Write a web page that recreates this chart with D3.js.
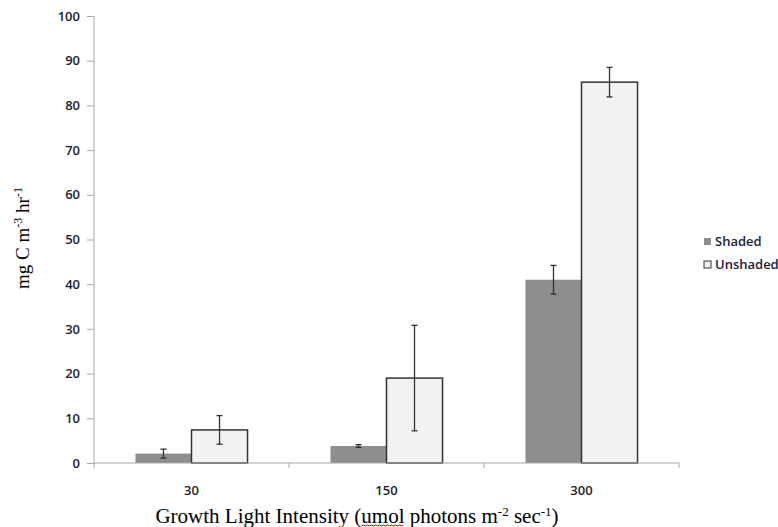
<!DOCTYPE html>
<html>
<head>
<meta charset="utf-8">
<script src="https://cdn.jsdelivr.net/npm/d3@7"></script>
<style>
  body { margin: 0; background: #fff; }
  .tick text { font-family: "Open Sans", sans-serif; font-size: 13px; font-weight: 600; fill: #1c1c2c; }
  .axisTitle { font-family: "Liberation Serif", "DejaVu Serif", serif; fill: #000; }
</style>
</head>
<body>
<div id="chart"></div>
<script>
// chart data
var categories = ["30", "150", "300"];
var seriesNames = ["Shaded", "Unshaded"];
var shadedVals = [2.1, 3.8, 41.0];
var shadedErr = [1.0, 0.3, 3.2];
var unshadedVals = [7.4, 19.0, 85.2];
var unshadedErr = [3.2, 11.8, 3.3];
var yTicks = [0, 10, 20, 30, 40, 50, 60, 70, 80, 90, 100];

var svgWidth = 778, svgHeight = 527;
var margin = { top: 16, right: 99, bottom: 64, left: 94 };
var chartWidth = svgWidth - margin.left - margin.right;
var chartHeight = svgHeight - margin.top - margin.bottom;

var svg = d3.select("#chart").append("svg")
    .attr("width", svgWidth)
    .attr("height", svgHeight);

var chartGroup = svg.append("g")
    .attr("transform", `translate(${margin.left}, ${margin.top})`);

// build rows
var rows = categories.map((c, i) => ({
    cat: c,
    vals: [
      { s: "Shaded", v: shadedVals[i], e: shadedErr[i] },
      { s: "Unshaded", v: unshadedVals[i], e: unshadedErr[i] }
    ]
}));

var x0 = d3.scaleBand().domain(categories).range([0, chartWidth]).padding(0);
var x1 = d3.scaleBand().domain(seriesNames).range([0, x0.bandwidth()]).paddingInner(0).paddingOuter(0.74);
var y = d3.scaleLinear().domain([0, 100]).range([chartHeight, 0]);

var fill = { "Shaded": "#8e8e8e", "Unshaded": "#f2f2f2" };
var stroke = { "Shaded": "none", "Unshaded": "#333" };

// y axis
var yAxis = chartGroup.append("g")
    .call(d3.axisLeft(y).tickValues(yTicks).tickSize(7).tickPadding(7));
yAxis.select(".domain").attr("stroke", "#a6a6a6").attr("d", `M0,0V${chartHeight}`);
yAxis.selectAll(".tick line").attr("stroke", "#a6a6a6");

// bars
var groups = chartGroup.selectAll(".grp")
    .data(rows)
    .enter().append("g")
    .attr("transform", d => `translate(${x0(d.cat)},0)`);

groups.selectAll("rect")
    .data(d => d.vals)
    .enter().append("rect")
    .attr("x", d => x1(d.s))
    .attr("y", d => y(d.v))
    .attr("width", x1.bandwidth())
    .attr("height", d => chartHeight - y(d.v))
    .attr("fill", d => fill[d.s])
    .attr("stroke", d => stroke[d.s])
    .attr("stroke-width", 1.5);

// x axis (ticks at category boundaries)
var xg = chartGroup.append("g").attr("transform", `translate(0, ${chartHeight})`);
xg.append("line").attr("x1", 0).attr("x2", chartWidth).attr("stroke", "#a6a6a6");
var bounds = categories.map(c => x0(c)).concat([chartWidth]);
xg.selectAll(".bt").data(bounds).enter().append("line")
    .attr("x1", d => d).attr("x2", d => d)
    .attr("y1", 0).attr("y2", 5)
    .attr("stroke", "#a6a6a6");
xg.selectAll(".tick").data(categories).enter().append("g")
    .attr("class", "tick")
    .append("text")
    .attr("x", d => x0(d) + x0.bandwidth() / 2)
    .attr("y", 32)
    .attr("text-anchor", "middle")
    .text(d => d);

// error bars
var eb = groups.selectAll(".err")
    .data(d => d.vals)
    .enter().append("g")
    .attr("stroke", "#333")
    .attr("stroke-width", 1.3);
eb.append("line")
    .attr("x1", d => x1(d.s) + x1.bandwidth() / 2)
    .attr("x2", d => x1(d.s) + x1.bandwidth() / 2)
    .attr("y1", d => y(d.v + d.e))
    .attr("y2", d => y(d.v - d.e));
eb.append("line")
    .attr("x1", d => x1(d.s) + x1.bandwidth() / 2 - 3)
    .attr("x2", d => x1(d.s) + x1.bandwidth() / 2 + 3)
    .attr("y1", d => y(d.v + d.e))
    .attr("y2", d => y(d.v + d.e));
eb.append("line")
    .attr("x1", d => x1(d.s) + x1.bandwidth() / 2 - 3)
    .attr("x2", d => x1(d.s) + x1.bandwidth() / 2 + 3)
    .attr("y1", d => y(d.v - d.e))
    .attr("y2", d => y(d.v - d.e));

// axis titles
var yt = svg.append("text")
    .attr("class", "axisTitle")
    .style("font-size", "19px")
    .attr("transform", `translate(29, ${margin.top + 222}) rotate(-90)`)
    .attr("text-anchor", "middle");
yt.append("tspan").text("mg C m");
yt.append("tspan").attr("baseline-shift", "super").style("font-size", "12px").text("-3");
yt.append("tspan").text(" hr");
yt.append("tspan").attr("baseline-shift", "super").style("font-size", "12px").text("-1");

var xt = svg.append("text")
    .attr("class", "axisTitle")
    .style("font-size", "21px")
    .attr("x", 357)
    .attr("y", 523)
    .attr("text-anchor", "middle");
xt.append("tspan").text("Growth Light Intensity (");
xt.append("tspan").attr("id", "umol").text("umol");
xt.append("tspan").text(" photons m");
xt.append("tspan").attr("baseline-shift", "super").style("font-size", "13px").text("-2");
xt.append("tspan").text(" sec");
xt.append("tspan").attr("baseline-shift", "super").style("font-size", "13px").text("-1");
xt.append("tspan").text(")");

// red spell-check squiggle under "umol"
var ub = document.getElementById("umol");
var ext = ub.getExtentOfChar(0), ext2 = ub.getExtentOfChar(3);
var sx = ext.x, ex = ext2.x + ext2.width, sy = 526;
var pts = d3.range(sx, ex, 2).map((px, i) => [px, sy + (i % 2 ? -1 : 0)]);
svg.append("path").attr("d", d3.line()(pts)).attr("fill", "none").attr("stroke", "#d00").attr("stroke-width", 1);

// legend
var legend = svg.append("g").attr("transform", "translate(704, 238)");
seriesNames.forEach((s, i) => {
    var lg = legend.append("g").attr("transform", `translate(0, ${i * 23})`);
    lg.append("rect").attr("x", 0).attr("y", 0).attr("width", 7).attr("height", 7)
      .attr("fill", fill[s]).attr("stroke", s === "Unshaded" ? "#333" : "none").attr("stroke-width", 1);
    lg.append("text").attr("x", 11).attr("y", 8)
      .attr("font-family", "Open Sans, sans-serif").attr("font-size", 13).attr("font-weight", 600).attr("fill", "#1c1c3c")
      .text(s);
});
</script>
</body>
</html>
